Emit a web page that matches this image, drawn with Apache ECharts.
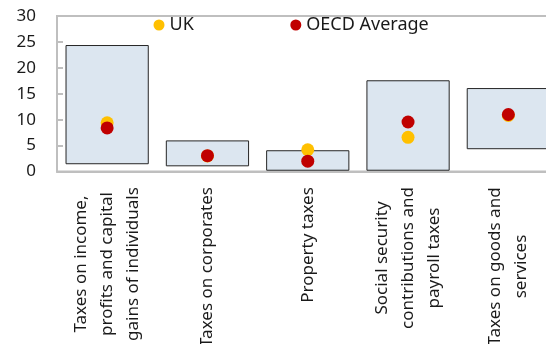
<!DOCTYPE html>
<html>
<head>
<meta charset="utf-8">
<script src="https://cdn.jsdelivr.net/npm/echarts@6/dist/echarts.min.js"></script>
<style>html,body{margin:0;padding:0;background:#fff}#c{width:546px;height:344px}</style>
</head>
<body>
<div id="c"></div>
<script>
var categories = [
  'Taxes on income,\nprofits and capital\ngains of individuals',
  'Taxes on corporates',
  'Property taxes',
  'Social security\ncontributions and\npayroll taxes',
  'Taxes on goods and\nservices'
];
var rangeLow = [1.4, 1.0, 0.15, 0.15, 4.3];
var rangeHigh = [24.4, 6.0, 4.1, 17.6, 16.1];
var ukValues = [9.4, 3.0, 4.2, 6.6, 10.8];
var oecdValues = [8.4, 3.05, 2.0, 9.55, 11.0];
var yTicks = {min: 0, max: 30, interval: 5};

var rangeSpan = rangeHigh.map(function (h, i) { return +(h - rangeLow[i]).toFixed(2); });
var FONT = 'Noto Sans';
var XFS = 17;

// measure each label's widest line so lines can be centred inside the block
var cv = document.createElement('canvas').getContext('2d');
cv.font = XFS + 'px "' + FONT + '"';
var rich = {};
categories.forEach(function (c, i) {
  var w = 0;
  c.split('\n').forEach(function (l) { w = Math.max(w, cv.measureText(l).width); });
  rich['c' + i] = {align: 'center', width: Math.ceil(w) + 1, fontSize: XFS, lineHeight: 26, color: '#1a1a1a', fontFamily: FONT};
});

var chart = echarts.init(document.getElementById('c'), null, {renderer: 'canvas'});
chart.setOption({
  animation: false,
  textStyle: {fontFamily: FONT},
  grid: {left: 57, right: -12.5, top: 16, bottom: 172.5, show: true, borderColor: '#bfbfbf', borderWidth: 2, backgroundColor: 'transparent', outerBoundsMode: 'none', containLabel: false},
  legend: {
    left: 148.5, top: 11, itemGap: 96.5, itemWidth: 11, itemHeight: 11,
    icon: 'circle',
    textStyle: {fontSize: 18, color: '#1a1a1a', fontFamily: FONT},
    data: ['UK', 'OECD Average']
  },
  xAxis: {
    type: 'category',
    data: categories,
    axisLine: {lineStyle: {color: '#bfbfbf', width: 2}},
    axisTick: {inside: true, length: 5, lineStyle: {color: '#bfbfbf', width: 2}},
    axisLabel: {
      rotate: 90, margin: 15, interval: 0,
      color: '#1a1a1a', fontSize: XFS, fontFamily: FONT,
      formatter: function (v) {
        var i = categories.indexOf(v);
        return v.split('\n').map(function (l) { return '{c' + i + '|' + l + '}'; }).join('\n');
      },
      rich: rich
    },
    splitLine: {show: false}
  },
  yAxis: {
    type: 'value',
    min: yTicks.min, max: yTicks.max, interval: yTicks.interval,
    axisLine: {show: true, lineStyle: {color: '#bfbfbf', width: 2}},
    axisTick: {show: true, inside: true, length: 6, lineStyle: {color: '#bfbfbf', width: 2}},
    axisLabel: {margin: 21, color: '#1a1a1a', fontSize: 17, fontFamily: FONT},
    splitLine: {show: false}
  },
  series: [
    {
      name: 'base', type: 'bar', stack: 'r', barWidth: '83%',
      itemStyle: {color: 'transparent'}, data: rangeLow, silent: true
    },
    {
      name: 'range', type: 'bar', stack: 'r', barWidth: '83%',
      itemStyle: {color: '#dce6f0', borderColor: '#262626', borderWidth: 1},
      data: rangeSpan
    },
    {
      name: 'UK', type: 'scatter', symbolSize: 13,
      itemStyle: {color: '#ffc000', opacity: 1}, data: ukValues, z: 3
    },
    {
      name: 'OECD Average', type: 'scatter', symbolSize: 13,
      itemStyle: {color: '#c00000', opacity: 1}, data: oecdValues, z: 4
    }
  ]
});
</script>
</body>
</html>
